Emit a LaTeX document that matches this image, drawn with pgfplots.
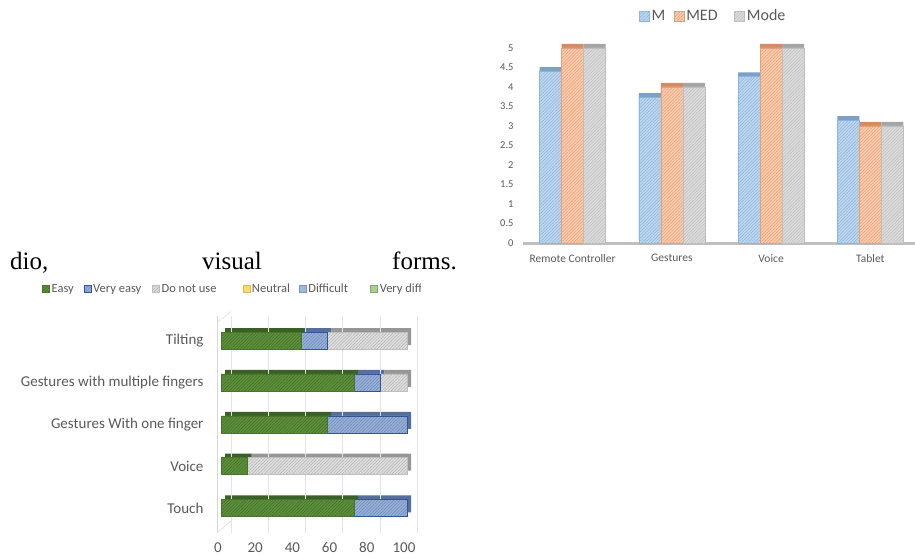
\documentclass[border=0pt]{standalone}
\usepackage{fontspec}
\setmainfont{Carlito}
\newfontfamily\timesfont{Liberation Serif}
\usepackage{pgfplots}
\usepackage{pgfplotstable}
\pgfplotsset{compat=1.18}
\usetikzlibrary{patterns.meta}

\definecolor{txt}{RGB}{89,89,89}
\definecolor{Mfill}{RGB}{189,215,238}
\definecolor{Medge}{RGB}{140,180,220}
\definecolor{Mcap}{RGB}{125,160,200}
\definecolor{MEDfill}{RGB}{248,203,173}
\definecolor{MEDedge}{RGB}{230,160,120}
\definecolor{MEDcap}{RGB}{210,140,100}
\definecolor{Modefill}{RGB}{219,219,219}
\definecolor{Modeedge}{RGB}{190,190,190}
\definecolor{Modecap}{RGB}{165,165,165}
\definecolor{easy}{RGB}{92,144,58}
\definecolor{easyback}{RGB}{58,96,38}
\definecolor{veasy}{RGB}{150,175,215}
\definecolor{veasyedge}{RGB}{50,85,150}
\definecolor{veasyback}{RGB}{85,110,155}
\definecolor{dnu}{RGB}{222,222,222}
\definecolor{dnuback}{RGB}{150,150,150}
\definecolor{neutral}{RGB}{255,217,102}
\definecolor{diff}{RGB}{160,185,225}
\definecolor{vdiff}{RGB}{169,209,142}
\definecolor{wall}{RGB}{215,215,215}

\pgfplotstableread{
x M MED Mode
0 4.41 5 5
1 3.74 4 4
2 4.27 5 5
3 3.15 3 3
}\meanmedmode

% 7 participants, percentages
\pgfplotstableread{
y Easy VeryEasy DoNotUse
0 71.4 28.6 0
1 14.3 0 85.7
2 57.1 42.9 0
3 71.4 14.3 14.3
4 42.9 14.3 42.9
}\usability

\pgfplotsset{
  big sq/.style={legend image code/.code={\draw[##1] (0pt,-5pt) rectangle (10pt,5pt);}},
  small sq/.style={legend image code/.code={\draw[##1] (0pt,-3.5pt) rectangle (7pt,3.5pt);}},
  hatch/.style={postaction={pattern={Lines[angle=45,distance=2.2pt,line width=0.45pt]},pattern color=#1}},
  lower base/.style={
    at={(221pt,25pt)}, anchor=south west,
    scale only axis, width=186pt, height=217.4pt,
    xmin=0, xmax=100, ymin=-0.6, ymax=4.6,
    xbar stacked, bar width=17pt, clip=false,
  },
}
\newcommand{\lb}[2]{\makebox[#1pt][l]{#2}}

\begin{document}
\begin{tikzpicture}
\useasboundingbox (0pt,0pt) rectangle (915pt,558pt);

\begin{scope}[every node/.style={anchor=base west, inner sep=0pt, font=\timesfont\fontsize{25}{30}\selectfont}]
\node at (10pt,289pt) {dio,};
\node at (202pt,289pt) {visual};
\node at (392pt,289pt) {forms.};
\end{scope}

% top right chart
\begin{axis}[
  at={(523pt,315pt)}, anchor=south west,
  scale only axis, width=392pt, height=202.8pt,
  xmin=-0.5, xmax=3.45, ymin=0, ymax=5.2,
  axis x line*=bottom, axis y line*=left,
  x axis line style={draw={rgb,255:red,191;green,191;blue,191}, line width=3pt},
  y axis line style={draw=none},
  major tick length=0pt,
  xtick={0,1,2,3},
  xticklabels={Remote Controller,Gestures,Voice,Tablet},
  ytick={0,0.5,...,5},
  /pgf/number format/assume math mode=true,
  tick label style={text=txt},
  yticklabel style={font=\fontsize{10.5}{12}\selectfont, xshift=-6pt},
  xticklabel style={font=\fontsize{11.5}{13}\selectfont, yshift=-8pt},
  ybar, bar width=22pt,
  legend columns=3,
  legend style={at={(0.288,1.119)}, anchor=west, draw=none, fill=none,
    font=\fontsize{16}{18}\selectfont, text=txt,
    /tikz/every even column/.append style={column sep=0pt}},
]
\addplot[bar shift=-22pt, fill=Mcap, draw=none, yshift=4pt, forget plot] table[x=x,y=M]{\meanmedmode};
\addplot[bar shift=0pt, fill=MEDcap, draw=none, yshift=4pt, forget plot] table[x=x,y=MED]{\meanmedmode};
\addplot[bar shift=22pt, fill=Modecap, draw=none, yshift=4pt, forget plot] table[x=x,y=Mode]{\meanmedmode};
\addplot[bar shift=-22pt, fill=Mfill, draw=Medge, line width=0.6pt, hatch=Medge, big sq] table[x=x,y=M]{\meanmedmode};
\addplot[bar shift=0pt, fill=MEDfill, draw=MEDedge, line width=0.6pt, hatch=MEDedge, big sq] table[x=x,y=MED]{\meanmedmode};
\addplot[bar shift=22pt, fill=Modefill, draw=Modeedge, line width=0.6pt, hatch=Modeedge, big sq] table[x=x,y=Mode]{\meanmedmode};
\legend{\lb{20}{M},\lb{46}{MED},Mode}
\end{axis}

% bottom left chart
\begin{scope}
\clip (0pt,0pt) rectangle (420pt,558pt);
% back faces of the 3-D bars
\begin{axis}[lower base, hide axis]
\addplot[fill=easyback, draw=none, xshift=4pt, yshift=4pt] table[x=Easy,y=y]{\usability};
\addplot[fill=veasyback, draw=none, xshift=4pt, yshift=4pt] table[x=VeryEasy,y=y]{\usability};
\addplot[fill=dnuback, draw=none, xshift=4pt, yshift=4pt] table[x=DoNotUse,y=y]{\usability};
\end{axis}
\begin{axis}[lower base,
  axis x line*=bottom, axis y line*=left,
  x axis line style={draw=none},
  y axis line style={draw=wall, xshift=-4pt},
  xmajorgrids, grid style={draw={rgb,255:red,228;green,228;blue,228}, xshift=10pt},
  major tick length=0pt,
  ytick={0,1,2,3,4},
  yticklabels={Touch,Voice,Gestures With one finger,Gestures with multiple fingers,Tilting},
  xtick={0,20,...,100},
  /pgf/number format/assume math mode=true,
  tick label style={text=txt, font=\fontsize{15}{17}\selectfont},
  yticklabel style={xshift=-14pt},
  xticklabel style={xshift=-3pt, yshift=-6pt},
  legend columns=6,
  legend style={at={(-0.978,1.122)}, anchor=west, draw=none, fill=none,
    font=\fontsize{12.5}{14}\selectfont, text=txt,
    /tikz/every even column/.append style={column sep=0pt}},
]
\addplot[fill=easy, draw=easy!80!black, line width=0.4pt, hatch=easy!75!black, small sq] table[x=Easy,y=y]{\usability};
\addplot[fill=veasy, draw=veasyedge, line width=0.5pt, hatch=veasyedge!70, small sq] table[x=VeryEasy,y=y]{\usability};
\addplot[fill=dnu, draw=dnu!85!black, line width=0.4pt, hatch=dnu!80!black, small sq] table[x=DoNotUse,y=y]{\usability};
\addlegendimage{fill=neutral, draw=neutral!85!black, small sq}
\addlegendimage{fill=diff, draw=diff!80!black, small sq}
\addlegendimage{fill=vdiff, draw=vdiff!80!black, small sq}
\legend{\lb{30}{Easy},\lb{57}{Very easy},\lb{79}{Do not use},\lb{45}{Neutral},\lb{60}{Difficult},Very difficult}
% slanted ends of the left wall
\draw[wall] (rel axis cs:0,1) ++(-4pt,-7pt) -- ++(14pt,11pt);
\draw[wall] (rel axis cs:0,0) ++(-4pt,0pt) -- ++(14pt,12pt);
\end{axis}
\end{scope}
\end{tikzpicture}
\end{document}
